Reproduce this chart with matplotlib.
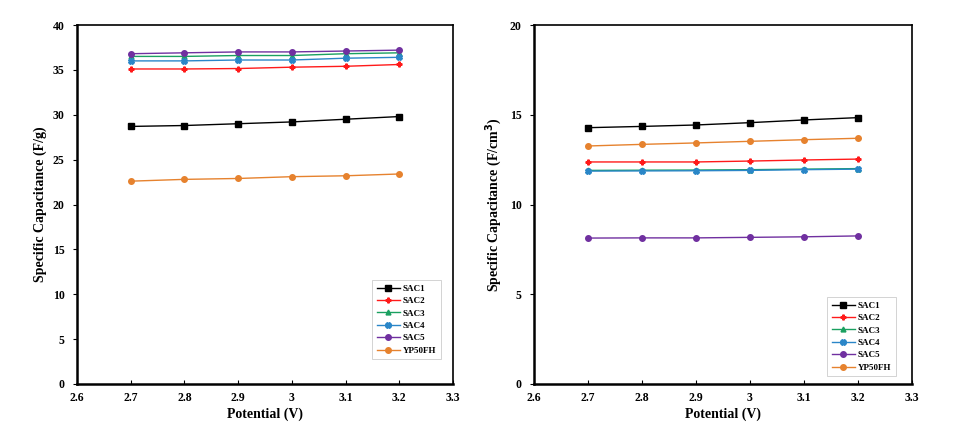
import matplotlib
matplotlib.use("Agg")
import matplotlib.pyplot as plt

potential = [2.7, 2.8, 2.9, 3.0, 3.1, 3.2]
series_names = ["SAC1", "SAC2", "SAC3", "SAC4", "SAC5", "YP50FH"]

grav_sac1 = [28.7, 28.8, 29.0, 29.2, 29.5, 29.8]
grav_sac2 = [35.1, 35.1, 35.15, 35.3, 35.4, 35.6]
grav_sac3 = [36.5, 36.5, 36.6, 36.6, 36.8, 36.9]
grav_sac4 = [36.0, 36.0, 36.1, 36.1, 36.3, 36.4]
grav_sac5 = [36.8, 36.9, 37.0, 37.0, 37.1, 37.2]
grav_yp50 = [22.6, 22.8, 22.9, 23.1, 23.2, 23.4]

vol_sac1 = [14.28, 14.35, 14.43, 14.56, 14.71, 14.84]
vol_sac2 = [12.37, 12.37, 12.37, 12.42, 12.48, 12.53]
vol_sac3 = [11.90, 11.91, 11.92, 11.94, 11.97, 12.00]
vol_sac4 = [11.86, 11.87, 11.88, 11.90, 11.94, 11.97]
vol_sac5 = [8.13, 8.14, 8.14, 8.17, 8.20, 8.25]
vol_yp50 = [13.26, 13.35, 13.43, 13.52, 13.61, 13.69]

x_ticks = [2.6, 2.7, 2.8, 2.9, 3.0, 3.1, 3.2, 3.3]
x_ticklabels = ["2.6", "2.7", "2.8", "2.9", "3", "3.1", "3.2", "3.3"]

colors = ["#000000", "#ff1a1a", "#1aa060", "#2a86c8", "#7030a0", "#e6822e"]
markers = ["s", "P", "^", "X", "o", "o"]
msizes = [4.0, 3.5, 3.5, 4.0, 4.0, 4.0]

plt.rcParams['font.family'] = ['Liberation Serif', 'DejaVu Serif']
plt.rcParams['font.weight'] = 'bold'

fig = plt.figure(figsize=(9.72, 4.38), dpi=100)
ax1 = fig.add_axes([77/972, 1-384/438, 376/972, 359/438])
ax2 = fig.add_axes([534/972, 1-384/438, 378/972, 359/438])

def draw(ax, data, ylim, yticks, ylabel, legend_anchor):
    for name, vals, c, m, ms in zip(series_names, data, colors, markers, msizes):
        ax.plot(potential, vals, color=c, marker=m, markersize=ms, linewidth=1.0, label=name)
    ax.set_xlim(2.6, 3.3)
    ax.set_ylim(*ylim)
    ax.set_xticks(x_ticks)
    ax.set_xticklabels(x_ticklabels)
    ax.set_yticks(yticks)
    ax.tick_params(axis='x', direction='in', length=3, labelsize=8.5, pad=6, width=0.8)
    ax.tick_params(axis='y', direction='out', length=3, labelsize=8.5, pad=6, width=0.8)
    for lab in ax.get_xticklabels() + ax.get_yticklabels():
        lab.set_fontweight('bold')
    for side in ['left', 'bottom']:
        ax.spines[side].set_linewidth(1.8)
    for side in ['right', 'top']:
        ax.spines[side].set_linewidth(1.2)
    ax.set_xlabel("Potential (V)", fontsize=10, fontweight='bold', labelpad=2)
    ax.set_ylabel(ylabel, fontsize=10, fontweight='bold', labelpad=4)
    leg = ax.legend(loc='upper left', bbox_to_anchor=legend_anchor, fontsize=6.5,
                    frameon=True, fancybox=False, edgecolor='#cccccc', framealpha=1,
                    handlelength=2.6, handletextpad=0.3, labelspacing=0.45,
                    borderpad=0.5, borderaxespad=0, prop={'weight': 'bold', 'size': 6.5})
    leg.get_frame().set_linewidth(0.6)

draw(ax1, [grav_sac1, grav_sac2, grav_sac3, grav_sac4, grav_sac5, grav_yp50],
     (0, 40), list(range(0, 41, 5)), "Specific Capacitance (F/g)",
     ((372-77)/376, (384-280)/359))
draw(ax2, [vol_sac1, vol_sac2, vol_sac3, vol_sac4, vol_sac5, vol_yp50],
     (0, 20), [0, 5, 10, 15, 20], "Specific Capacitance (F/cm$^\\mathbf{3}$)",
     ((827-534)/378, (384-297)/359))

fig.savefig("out.png", dpi=100)
